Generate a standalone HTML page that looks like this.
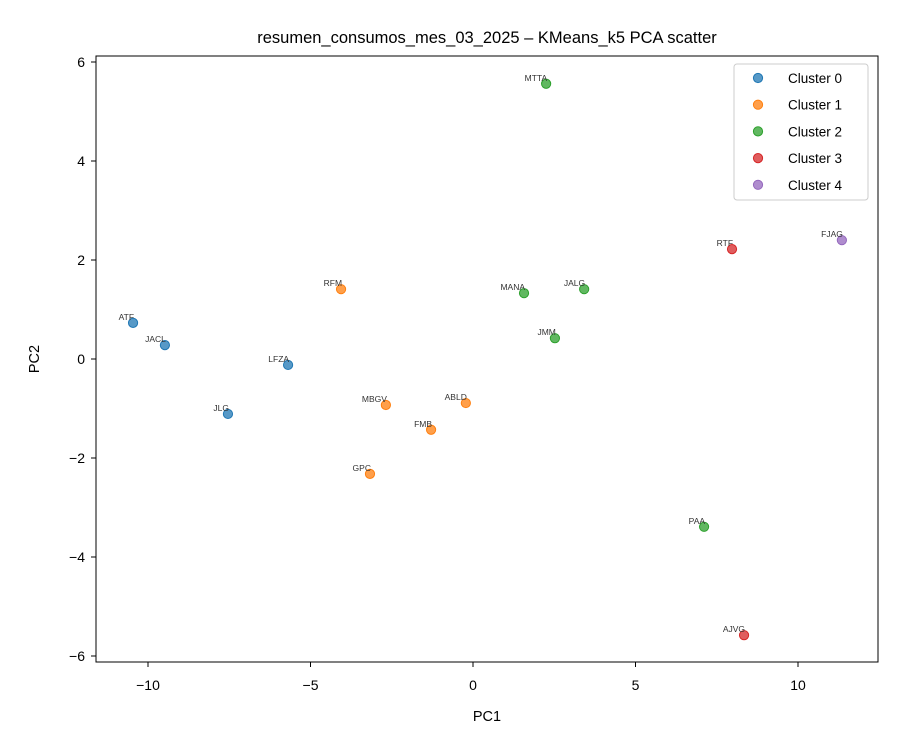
<!DOCTYPE html>
<html><head><meta charset="utf-8"><style>body{margin:0;background:#fff}svg{display:block;font-family:"Liberation Sans","DejaVu Sans",sans-serif}</style></head>
<body>
<svg id="chart" width="900" height="750" viewBox="0 0 900 750">
<rect width="900" height="750" fill="#fff"/>
<text x="487" y="43" text-anchor="middle" font-size="16.5">resumen_consumos_mes_03_2025 – KMeans_k5 PCA scatter</text>
<g id="grid"></g>
<g id="points"></g>
<rect x="96" y="56" width="782" height="606" fill="none" stroke="#000" stroke-width="1"/>
<text x="487" y="721" text-anchor="middle" font-size="14.5">PC1</text>
<text transform="translate(39,359) rotate(-90)" text-anchor="middle" font-size="14.5">PC2</text>
<g id="legend"></g>
</svg>
<script>
const labels=["ATF","JACL","LFZA","JLG","RFM","MBGV","ABLD","FMB","GPC","MTTA","MANA","JALG","JMM","PAA","RTF","AJVG","FJAG"];
const pc1=[-10.46,-9.48,-5.69,-7.54,-4.06,-2.68,-0.22,-1.29,-3.17,2.25,1.57,3.42,2.52,7.11,7.97,8.34,11.35];
const pc2=[0.73,0.28,-0.12,-1.11,1.41,-0.93,-0.89,-1.43,-2.32,5.56,1.33,1.41,0.42,-3.39,2.22,-5.58,2.40];
const clusters=[0,0,0,0,1,1,1,1,1,2,2,2,2,2,3,3,4];
const xTicks=[-10,-5,0,5,10];
const yTicks=[-6,-4,-2,0,2,4,6];
const clusterNames=["Cluster 0","Cluster 1","Cluster 2","Cluster 3","Cluster 4"];
const colors=["#1f77b4","#ff7f0e","#2ca02c","#d62728","#9467bd"];
const NS="http://www.w3.org/2000/svg";
const X=v=>473+v*32.5, Y=v=>359-v*49.5;
function mk(t,a,p){const e=document.createElementNS(NS,t);for(const k in a)e.setAttribute(k,a[k]);p.appendChild(e);return e;}
const g=document.getElementById('grid');
xTicks.forEach(t=>{
 const l=mk('line',{x1:X(t),x2:X(t),y1:662,y2:667,stroke:'#000'},g);
 
 
 const s=mk('text',{x:X(t),y:690,'text-anchor':'middle','font-size':'14'},g);
 
 
 s.textContent=(t<0?'−'+(-t):t);
});
yTicks.forEach(t=>{
 const l=mk('line',{x1:91,x2:96,y1:Y(t),y2:Y(t),stroke:'#000'},g);
 
 
 const s=mk('text',{x:85,y:Y(t)+5,'text-anchor':'end','font-size':'14'},g);
 
 
 s.textContent=(t<0?'−'+(-t):t);
});
const pg=document.getElementById('points');
labels.forEach((lb,i)=>{
 const c=mk('circle',{cx:X(pc1[i]),cy:Y(pc2[i]),r:4.6,fill:colors[clusters[i]],'fill-opacity':0.75,stroke:colors[clusters[i]],'stroke-width':1},pg);
 
 
 const t=mk('text',{x:X(pc1[i])+1,y:Y(pc2[i])-3,'text-anchor':'end','font-size':'8.5',fill:'#333'},pg);
 
 
 t.textContent=lb;
});
const lg=document.getElementById('legend');
const box=mk('rect',{x:734,y:64,width:134,height:136,rx:3,fill:'#fff','fill-opacity':0.8,stroke:'#ccc'},lg);


clusterNames.forEach((n,i)=>{
 const y=78+i*26.7;
 const c=mk('circle',{cx:758,cy:y,r:4.6,fill:colors[i],'fill-opacity':0.75,stroke:colors[i]},lg);
 
 
 const t=mk('text',{x:788,y:y+5,'font-size':'13.5'},lg);
 
 
 t.textContent=n;
});
</script>
</body></html>
